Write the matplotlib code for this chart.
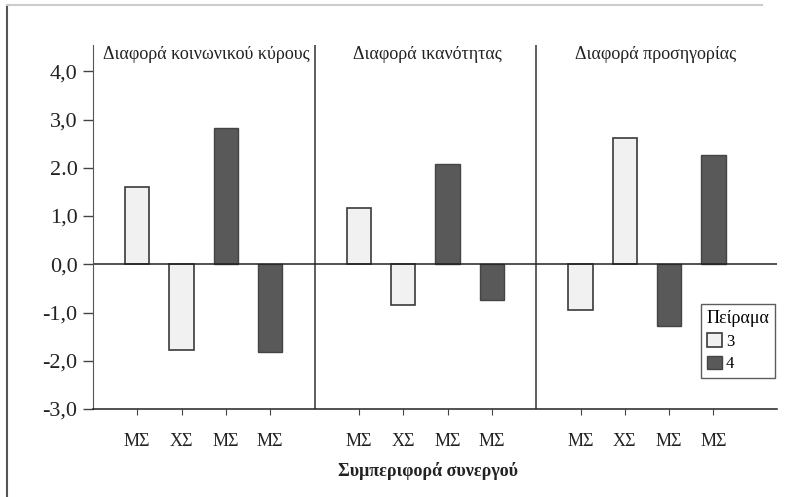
import numpy as np
import matplotlib
matplotlib.use("Agg")
import matplotlib.pyplot as plt
from matplotlib.lines import Line2D

plt.rcParams['font.family'] = ['Liberation Serif', 'DejaVu Serif']

# data
panels = ['Διαφορά κοινωνικού κύρους', 'Διαφορά ικανότητας', 'Διαφορά προσηγορίας']
tick_labels = ['ΜΣ', 'ΧΣ', 'ΜΣ', 'ΜΣ']
exp3 = [[1.60, -1.77], [1.17, -0.85], [-0.95, 2.62]]
exp4 = [[2.82, -1.82], [2.08, -0.74], [-1.28, 2.26]]
yticks = [-3, -2, -1, 0, 1, 2, 3, 4]
ytick_labels = ['-3,0', '-2,0', '-1,0', '0,0', '1,0', '2.0', '3,0', '4,0']

light = '#f1f1f1'
dark = '#595959'

fig = plt.figure(figsize=(7.94, 4.97), dpi=100)
ax = fig.add_axes([0.117, 0.177, 0.862, 0.732])

w = 0.55
xpos = []
for i in range(len(panels)):
    base = 5 * i
    x3 = [base + 1, base + 2]
    x4 = [base + 3, base + 4]
    ax.bar(x3, exp3[i], width=w, color=light, edgecolor='#3a3a3a', linewidth=1.2,
           label='3' if i == 0 else None)
    ax.bar(x4, exp4[i], width=w, color=dark, edgecolor='#444444', linewidth=1.0,
           label='4' if i == 0 else None)
    xpos += x3 + x4
    ax.text(base + 2.55 + (0.15 if i == 2 else 0), 0.975, panels[i], transform=ax.get_xaxis_transform(),
            ha='center', va='center', fontsize=13, color='#222222')
    if i > 0:
        ax.axvline(base, color='#333333', lw=1.1)

ax.axhline(0, color='#222222', lw=1.1)

ax.set_xlim(0, 15.44)
ax.set_ylim(-3, 4.54)
ax.set_xticks(xpos)
ax.set_xticklabels(tick_labels * len(panels), fontsize=13, color='#222222')
ax.set_yticks(yticks)
ax.set_yticklabels(ytick_labels, fontsize=16, color='#222222')
ax.tick_params(axis='x', length=4, width=0.8, pad=13, color='#444444')
ax.tick_params(axis='y', length=7, width=1.0, pad=4, color='#444444')

for s in ['top', 'right']:
    ax.spines[s].set_visible(False)
ax.spines['left'].set_color('#555555')
ax.spines['bottom'].set_color('#222222')
ax.spines['bottom'].set_linewidth(1.1)

ax.set_xlabel('Συμπεριφορά συνεργού', fontsize=13, fontweight='bold', color='#222222')
ax.xaxis.set_label_coords(0.49, -0.145)

leg = ax.legend(title='Πείραμα', loc='lower right', bbox_to_anchor=(0.997, 0.085),
                fontsize=12, title_fontsize=13, fancybox=False, frameon=True,
                handlelength=0.9, handleheight=0.9, handletextpad=0.25,
                borderpad=0.35, labelspacing=0.35, borderaxespad=0.0,
                edgecolor='#333333')
leg._legend_box.align = 'left'
leg.get_frame().set_linewidth(1.0)

# outer frame of the scanned figure
fig.add_artist(Line2D([7 / 794, 7 / 794], [0, 1 - 5 / 497], color='#555555', lw=1.5))
fig.add_artist(Line2D([7 / 794, 0.96], [1 - 5 / 497, 1 - 5 / 497], color='#cccccc', lw=1.5))

fig.savefig('out.png', dpi=100)
